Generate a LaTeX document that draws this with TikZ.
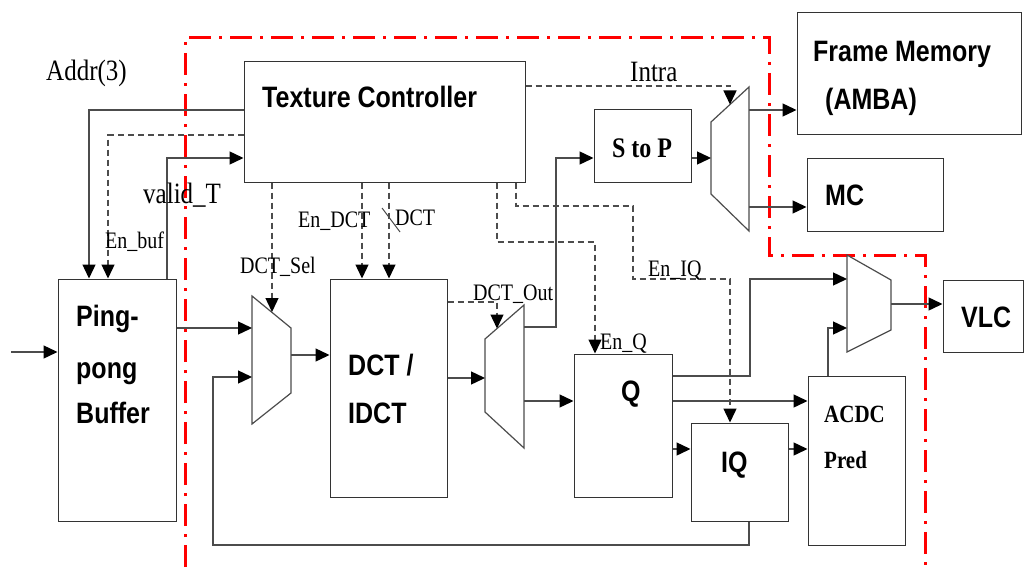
\documentclass[tikz,border=0pt]{standalone}
\usepackage{fontspec}
\usepackage{graphicx}
\setmainfont{Liberation Serif}
\newfontfamily\hv{Liberation Sans}
\usetikzlibrary{arrows.meta,calc}
\newcommand\vs[1]{\scalebox{1}[1.18]{#1}}
\begin{document}
\begin{tikzpicture}[x=1pt,y=-1pt,
  box/.style={draw=black!80, line width=1pt, inner sep=0pt},
  ln/.style={draw=black!70, line width=1.4pt},
  arr/.style={ln, -{Triangle[length=14pt,width=13pt,color=black]}},
  dsh/.style={arr, dash pattern=on 6pt off 4pt},
  dln/.style={ln, dash pattern=on 6pt off 4pt},
  mux/.style={draw=black!70, line width=1.2pt, fill=white},
  sansl/.style={anchor=base west, inner sep=0pt, font=\hv\bfseries\fontsize{25}{30}\selectfont},
  serl/.style={anchor=base west, inner sep=0pt, font=\fontsize{20}{24}\selectfont},
  serL/.style={anchor=base west, inner sep=0pt, font=\fontsize{25}{30}\selectfont},
  serb/.style={anchor=base west, inner sep=0pt, font=\bfseries\fontsize{21}{25}\selectfont},
  redline/.style={draw=red, line width=3pt, dash pattern=on 22pt off 8pt on 3pt off 8pt}
]
\useasboundingbox (0,0) rectangle (1024,567);

% red boundary
\draw[redline] (185,567) -- (185,38) -- (769,38) -- (769,255) -- (925,255) -- (925,567);

% boxes
\node[box, minimum width=281pt, minimum height=120pt] (tc) at (384.5,122) {};
\node[box, minimum width=118pt, minimum height=242pt] (pp) at (117,400) {};
\node[box, minimum width=117pt, minimum height=218pt] (dct) at (388.5,388) {};
\node[box, minimum width=97pt, minimum height=72pt] (stp) at (642.5,146) {};
\node[box, minimum width=98pt, minimum height=143pt] (q) at (623,425.5) {};
\node[box, minimum width=97pt, minimum height=98pt] (iq) at (739.5,472) {};
\node[box, minimum width=97pt, minimum height=169pt] (acdc) at (856.5,460.5) {};
\node[box, minimum width=80pt, minimum height=72pt] (vlc) at (983,316) {};
\node[box, minimum width=224pt, minimum height=121pt] (fm) at (909,73.5) {};
\node[box, minimum width=136pt, minimum height=73pt] (mc) at (875,194.5) {};

% box texts
\node[sansl] (ttc) at (262,107) {\vs{Texture Controller}};
\node[sansl] (tpp1) at (76,326) {\vs{Ping-}};
\node[sansl] (tpp2) at (76,378) {\vs{pong}};
\node[sansl] (tpp3) at (76,423) {\vs{Buffer}};
\node[sansl] (tdct1) at (348,375) {\vs{DCT /}};
\node[sansl] (tdct2) at (348,423) {\vs{IDCT}};
\node[sansl] (tq) at (621,401) {\vs{Q}};
\node[sansl] (tiq) at (721,472) {\vs{IQ}};
\node[sansl] (tvlc) at (961,327) {\vs{VLC}};
\node[sansl] (tmc) at (825,205) {\vs{MC}};
\node[sansl] (tfm1) at (813,62) {\vs{Frame Memory}};
\node[sansl] (tfm2) at (825,110) {\vs{(AMBA)}};
\node[anchor=base, inner sep=0pt, font=\bfseries\fontsize{24}{28}\selectfont] (tstp) at (642,157) {\vs{S to P}};
\node[serb] (tacdc1) at (824,422) {\vs{ACDC}};
\node[serb] (tacdc2) at (824,468) {\vs{Pred}};

% muxes
\draw[mux] (252,296) -- (291,328) -- (291,393) -- (252,424) -- cycle;
\draw[mux] (485,339) -- (524,305) -- (524,448) -- (485,412) -- cycle;
\draw[mux] (711,122) -- (749,87) -- (749,231) -- (711,194) -- cycle;
\draw[mux] (847,255) -- (891,280) -- (891,330) -- (847,352) -- cycle;

\coordinate (m1a) at (252,328);
\coordinate (m1b) at (252,377);
\coordinate (m1o) at (291,355);
\coordinate (m1t) at (272,312);
\coordinate (m2i) at (485,378);
\coordinate (m2t) at (497,328.5);
\coordinate (m2oa) at (524,327);
\coordinate (m2ob) at (524,401);
\coordinate (m4i) at (711,158);
\coordinate (m4t) at (730,104.5);
\coordinate (m4oa) at (749,110);
\coordinate (m4ob) at (749,207);
\coordinate (m3a) at (847,279);
\coordinate (m3b) at (847,328);
\coordinate (m3o) at (891,304);
\coordinate (src) at (11,352);

% connectors
\draw[arr] (src) -- (pp.west |- src);
\draw[arr] (tc.west |- 0,110) -| (pp.north -| 89,0);
\draw[dsh] (tc.west |- 0,135) -| (pp.north -| 108,0);
\draw[arr] (pp.north -| 167,0) |- (tc.west |- 0,158);
\draw[dsh] (tc.south -| m1t) -- (m1t);
\draw[dsh] (tc.south -| 362,0) -- (dct.north -| 362,0);
\draw[dsh] (tc.south -| 389,0) -- (dct.north -| 389,0);
\draw[draw=black!70, line width=1pt] (382,208) -- (400,232);
\draw[arr] (pp.east |- m1a) -- (m1a);
\draw[arr] (m1o) -- (dct.west |- m1o);
\draw[arr] (dct.east |- m2i) -- (m2i);
\draw[dsh] (dct.east |- 0,302) -| (m2t);
\draw[arr] (m2oa) -| (556,158) -- (stp.west |- 0,158);
\draw[arr] (m2ob) -- (q.west |- m2ob);
\draw[dsh] (tc.south -| 497,0) |- (595,242) -- (q.north -| 595,0);
\draw[dsh] (tc.south -| 516,0) |- (633,206) |- (730,279) -- (iq.north -| 730,0);
\draw[arr] (stp.east |- m4i) -- (m4i);
\draw[dsh] (tc.east |- 0,86) -| (m4t);
\draw[arr] (m4oa) -- (fm.west |- m4oa);
\draw[arr] (m4ob) -- (mc.west |- m4ob);
\draw[arr] (q.east |- 0,376) -| (750,279) -- (m3a);
\draw[arr] (q.east |- 0,401) -- (acdc.west |- 0,401);
\draw[arr] (q.east |- 0,449) -- (iq.west |- 0,449);
\draw[arr] (iq.east |- 0,449) -- (acdc.west |- 0,449);
\draw[arr] (iq.south -| 749,0) |- (213,545) |- (m1b);
\draw[arr] (acdc.north -| 828,0) |- (m3b);
\draw[arr] (m3o) -- (vlc.west |- m3o);

% signal labels
\node[serL] (laddr) at (46,81) {\vs{Addr(3)}};
\node[serL] (lvalid) at (143,203) {\vs{valid\_T}};
\node[serl] (lenbuf) at (105,248) {\vs{En\_buf}};
\node[serl] (ldctsel) at (240,273) {\vs{DCT\_Sel}};
\node[serl] (lendct) at (298,227) {\vs{En\_DCT}};
\node[serl] (ldct) at (395,225) {\vs{DCT}};
\node[serl] (ldctout) at (473,300) {\vs{DCT\_Out}};
\node[serL] (lintra) at (630,82) {\vs{Intra}};
\node[serl] (lenq) at (600,349) {\vs{En\_Q}};
\node[serl] (leniq) at (648,276) {\vs{En\_IQ}};
\end{tikzpicture}
\end{document}
